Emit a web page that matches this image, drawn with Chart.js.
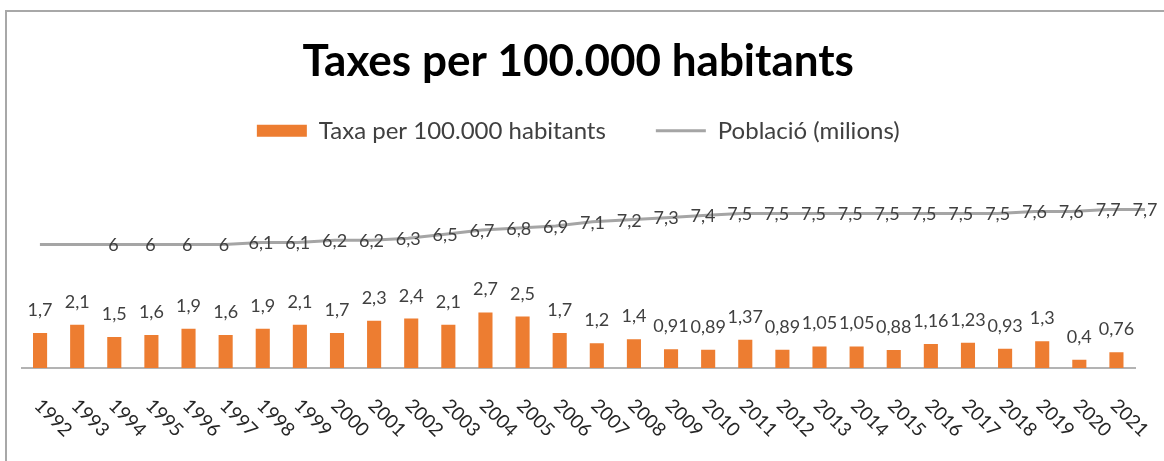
<!DOCTYPE html>
<html>
<head>
<meta charset="utf-8">
<script src="https://cdn.jsdelivr.net/npm/chart.js@4.4.1/dist/chart.umd.min.js"></script>
<style>
    body { margin: 0; background: #fff; overflow: hidden; }
    #frame { position: absolute; left: 5px; top: 10px; width: 1200px; height: 500px; border-left: 2px solid #a8a8a8; border-top: 2px solid #a8a8a8; }
    #wrap { position: absolute; left: 0; top: 0; width: 1164px; height: 461px; }
</style>
</head>
<body>
<div id="frame"></div>
<div id="wrap"><canvas id="chart" width="1164" height="461"></canvas></div>
<script>
// 年份
const years = ['1992', '1993', '1994', '1995', '1996', '1997', '1998', '1999', '2000', '2001',
    '2002', '2003', '2004', '2005', '2006', '2007', '2008', '2009', '2010', '2011',
    '2012', '2013', '2014', '2015', '2016', '2017', '2018', '2019', '2020', '2021'];

// 每十万居民比率
const rateValues = [1.7, 2.1, 1.5, 1.6, 1.9, 1.6, 1.9, 2.1, 1.7, 2.3,
    2.4, 2.1, 2.7, 2.5, 1.7, 1.2, 1.4, 0.91, 0.89, 1.37,
    0.89, 1.05, 1.05, 0.88, 1.16, 1.23, 0.93, 1.3, 0.4, 0.76];

// 人口(百万) —— 原图的折线比柱子多一个点
const popValues = [6, 6, 6, 6, 6, 6, 6.1, 6.1, 6.2, 6.2,
    6.3, 6.5, 6.7, 6.8, 6.9, 7.1, 7.2, 7.3, 7.4, 7.5,
    7.5, 7.5, 7.5, 7.5, 7.5, 7.5, 7.5, 7.6, 7.6, 7.7, 7.7];

// 原图中没有标签的折线点
const popHiddenLabels = [0, 1];

const FONT = 'Lato';
const LABEL_COLOR = '#404040';

function fmt(v) {
    return String(v).replace('.', ',');
}

// 数据标签
const valueLabels = {
    id: 'valueLabels',
    afterDatasetsDraw(chart) {
        const ctx = chart.ctx;
        ctx.save();
        ctx.font = '18px ' + FONT;
        ctx.fillStyle = LABEL_COLOR;
        ctx.textAlign = 'center';
        ctx.textBaseline = 'alphabetic';
        chart.getDatasetMeta(0).data.forEach((el, i) => {
            ctx.fillText(fmt(rateValues[i]), el.x, el.y - 17);
        });
        ctx.textBaseline = 'middle';
        chart.getDatasetMeta(1).data.forEach((el, i) => {
            if (popHiddenLabels.includes(i)) return;
            ctx.fillText(fmt(popValues[i]), el.x, el.y + 1);
        });
        ctx.restore();
    }
};

// 斜向的年份标签(向右下倾斜)
const slantTicks = {
    id: 'slantTicks',
    afterDraw(chart) {
        const ctx = chart.ctx;
        const scale = chart.scales.x;
        const bottom = chart.chartArea.bottom;
        ctx.save();
        ctx.font = '19px ' + FONT;
        ctx.fillStyle = '#262626';
        ctx.textAlign = 'center';
        ctx.textBaseline = 'middle';
        years.forEach((label, i) => {
            const px = scale.getPixelForTick(i);
            ctx.save();
            ctx.translate(px + 13, bottom + 50);
            ctx.rotate(Math.PI / 4);
            ctx.fillText(label, 0, 0);
            ctx.restore();
        });
        ctx.restore();
    }
};

const chart = new Chart(document.getElementById('chart'), {
    data: {
        labels: years,
        datasets: [{
            type: 'bar',
            label: 'Taxa per 100.000 habitants',
            data: rateValues,
            backgroundColor: '#ed7d31',
            borderWidth: 0,
            grouped: false,
            barPercentage: 0.38,
            categoryPercentage: 1
        }, {
            type: 'line',
            label: 'Població (milions)',
            data: popValues.map((v, i) => ({ x: i, y: v })),
            xAxisID: 'x2',
            borderColor: '#a5a5a5',
            backgroundColor: '#a5a5a5',
            borderWidth: 3,
            pointRadius: 0,
            tension: 0,
            clip: false
        }]
    },
    options: {
        responsive: false,
        animation: false,
        devicePixelRatio: 1,
        layout: {
            padding: { left: 21.5, right: 29, top: 0, bottom: 85 }
        },
        plugins: {
            title: {
                display: true,
                text: 'Taxes per 100.000 habitants',
                color: '#000',
                font: { family: FONT, size: 44, weight: 'bold', lineHeight: 1.2 },
                padding: { top: 35, bottom: -19 }
            },
            legend: {
                display: true,
                labels: {
                    usePointStyle: true,
                    pointStyleWidth: 50,
                    boxHeight: 12,
                    padding: 50,
                    color: LABEL_COLOR,
                    font: { family: FONT, size: 24 },
                    generateLabels(chart) {
                        const items = Chart.defaults.plugins.legend.labels.generateLabels(chart);
                        items.forEach((it, i) => { it.pointStyle = i === 0 ? 'rect' : 'line'; });
                        return items;
                    }
                }
            },
            tooltip: { enabled: false }
        },
        scales: {
            x: {
                type: 'category',
                offset: true,
                grid: { display: false },
                ticks: { display: false },
                border: { color: '#b3b3b3', width: 2 }
            },
            // 折线用的隐藏轴:31 个点,略微压缩以贴近原图
            x2: {
                type: 'linear',
                display: false,
                min: -0.5,
                max: years.length - 0.27
            },
            y: {
                display: false,
                min: 0,
                max: 10.45
            }
        }
    },
    plugins: [valueLabels, slantTicks]
});
</script>
</body>
</html>
